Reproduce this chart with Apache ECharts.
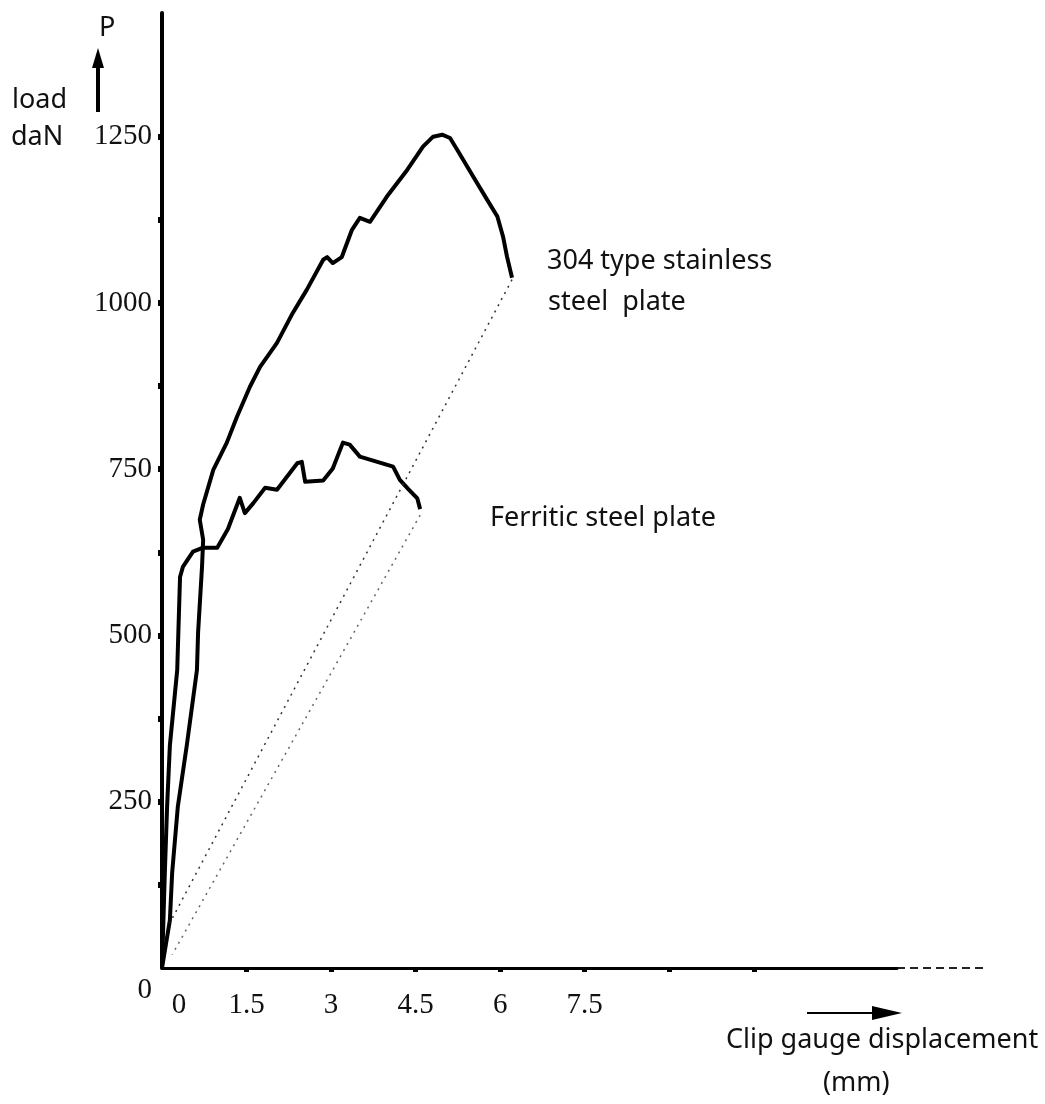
<!DOCTYPE html>
<html>
<head>
<meta charset="utf-8">
<script src="https://cdn.jsdelivr.net/npm/echarts@6/dist/echarts.min.js"></script>
<style>
  html, body { margin: 0; padding: 0; background: #fff; }
  #chart { width: 1045px; height: 1104px; }
</style>
</head>
<body>
<div id="chart"></div>
<script>
// load (daN) vs clip gauge displacement (mm)
const stainlessX = [0, 0.14, 0.18, 0.28, 0.44, 0.62, 0.64, 0.71, 0.73, 0.67, 0.73, 0.91, 1.15, 1.33, 1.56, 1.74, 2.04, 2.32, 2.57, 2.86, 2.93, 3.03, 3.19, 3.37, 3.51, 3.69, 3.99, 4.35, 4.63, 4.81, 4.97, 5.11, 5.24, 5.52, 5.77, 5.95, 6.05, 6.12, 6.21];
const stainlessY = [0, 72, 143, 242, 335, 448, 504, 603, 644, 674, 697, 749, 790, 829, 874, 904, 940, 985, 1020, 1065, 1069, 1060, 1069, 1110, 1128, 1122, 1160, 1200, 1235, 1250, 1253, 1248, 1230, 1190, 1155, 1130, 1100, 1070, 1038];

const ferriticX = [0, 0.05, 0.09, 0.14, 0.27, 0.32, 0.37, 0.55, 0.73, 0.98, 1.17, 1.38, 1.47, 1.62, 1.83, 2.04, 2.40, 2.48, 2.54, 2.86, 3.03, 3.21, 3.33, 3.51, 3.82, 4.10, 4.22, 4.37, 4.53, 4.58];
const ferriticY = [0, 143, 242, 335, 448, 588, 603, 626, 632, 632, 660, 707, 684, 699, 722, 719, 759, 761, 731, 733, 751, 790, 787, 769, 761, 754, 734, 720, 706, 690];

// unloading lines (dotted)
const stainlessUnloadX = [6.21, 0.14];
const stainlessUnloadY = [1035, 68];
const ferriticUnloadX = [4.58, 0.18];
const ferriticUnloadY = [681, 20];

const xLabelValues = [0, 1.5, 3, 4.5, 6, 7.5];
const xTickValues = [1.5, 3, 4.5, 6, 7.5, 9, 10.5];
const yLabelValues = [0, 250, 500, 750, 1000, 1250];
const yTickValues = [125, 250, 375, 500, 625, 750, 875, 1000, 1125, 1250];

function zip(xs, ys) {
  return xs.map((x, i) => [x, ys[i]]);
}

const numFont = '"Liberation Serif", serif';
const textFont = '27px "Noto Sans", sans-serif';

function label(text, x, y) {
  return { type: 'text', x: x, y: y, style: { text: text, font: textFont, fill: '#111', verticalAlign: 'middle' } };
}

const chart = echarts.init(document.getElementById('chart'));

const option = {
  animation: false,
  backgroundColor: '#fff',
  grid: { left: 162, top: 13, width: 735, height: 955 },
  xAxis: {
    type: 'value',
    min: 0,
    max: 13.04,
    splitLine: { show: false },
    axisLine: { lineStyle: { color: '#000', width: 3 } },
    axisTick: {
      customValues: xTickValues,
      length: 4,
      lineStyle: { color: '#000', width: 5 }
    },
    axisLabel: {
      customValues: xLabelValues,
      margin: 23,
      color: '#111',
      fontFamily: numFont,
      fontSize: 29,
      formatter: v => v === 0 ? '{z|0}' : String(v),
      rich: { z: { padding: [0, 0, 0, 34], fontFamily: numFont, fontSize: 29, color: '#111' } }
    }
  },
  yAxis: {
    type: 'value',
    min: 0,
    max: 1436,
    splitLine: { show: false },
    axisLine: { lineStyle: { color: '#000', width: 4 } },
    axisTick: {
      customValues: yTickValues,
      length: 4,
      lineStyle: { color: '#000', width: 6 }
    },
    axisLabel: {
      customValues: yLabelValues,
      margin: 10,
      color: '#111',
      fontFamily: numFont,
      fontSize: 29,
      formatter: v => v === 0 ? '{z|0}' : String(v),
      rich: { z: { padding: [44, 0, 0, 0], fontFamily: numFont, fontSize: 29, color: '#111' } }
    }
  },
  series: [
    {
      name: '304 type stainless steel plate',
      type: 'line',
      data: zip(stainlessX, stainlessY),
      showSymbol: false,
      lineStyle: { color: '#000', width: 4, join: 'round' }
    },
    {
      name: 'Ferritic steel plate',
      type: 'line',
      data: zip(ferriticX, ferriticY),
      showSymbol: false,
      lineStyle: { color: '#000', width: 4, join: 'round' }
    },
    {
      type: 'line',
      data: zip(stainlessUnloadX, stainlessUnloadY),
      showSymbol: false,
      lineStyle: { color: '#333', width: 1.5, type: [2, 5] }
    },
    {
      type: 'line',
      data: zip(ferriticUnloadX, ferriticUnloadY),
      showSymbol: false,
      lineStyle: { color: '#666', width: 1.5, type: [2, 5] }
    }
  ],
  graphic: [
    // y axis name with arrow
    label('P', 99, 28),
    { type: 'line', shape: { x1: 98, y1: 112, x2: 98, y2: 62 }, style: { stroke: '#000', lineWidth: 4 } },
    { type: 'polygon', shape: { points: [[92, 68], [98, 48], [104, 68]] }, style: { fill: '#000' } },
    label('load', 12, 100),
    label('daN', 11, 137),
    // dashed tail of the x axis
    { type: 'line', shape: { x1: 897, y1: 968, x2: 987, y2: 968 }, style: { stroke: '#222', lineWidth: 2, lineDash: [8, 5] } },
    // x axis name with arrow
    { type: 'line', shape: { x1: 807, y1: 1013, x2: 880, y2: 1013 }, style: { stroke: '#000', lineWidth: 2 } },
    { type: 'polygon', shape: { points: [[872, 1006], [902, 1013], [872, 1020]] }, style: { fill: '#000' } },
    label('Clip gauge displacement', 726, 1040),
    label('(mm)', 823, 1083),
    // curve labels
    label('304 type stainless', 547, 261),
    label('steel  plate', 548, 302),
    label('Ferritic steel plate', 490, 518)
  ]
};

chart.setOption(option);
</script>
</body>
</html>
